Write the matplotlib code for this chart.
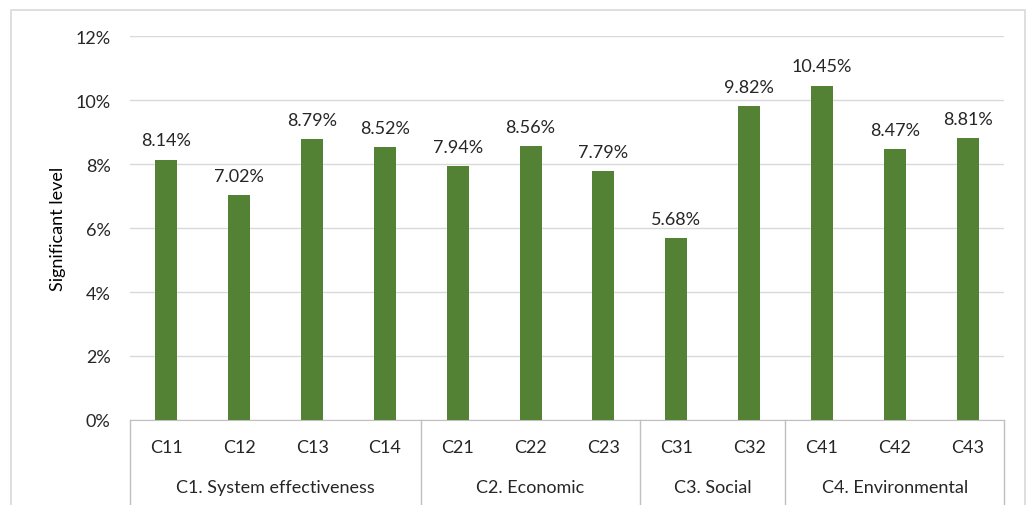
import matplotlib.pyplot as plt
from matplotlib.patches import Rectangle
from matplotlib.ticker import FuncFormatter, MultipleLocator

plt.rcParams['font.family'] = ['Lato', 'DejaVu Sans']

codes = ['C11', 'C12', 'C13', 'C14', 'C21', 'C22', 'C23', 'C31', 'C32', 'C41', 'C42', 'C43']
values = [8.14, 7.02, 8.79, 8.52, 7.94, 8.56, 7.79, 5.68, 9.82, 10.45, 8.47, 8.81]
groups = ['C1. System effectiveness', 'C2. Economic', 'C3. Social', 'C4. Environmental']
group_sizes = [4, 3, 2, 3]

bar_color = '#548235'
text_color = '#262626'

fig = plt.figure(figsize=(10.35, 5.06), dpi=100)
fig.patches.append(Rectangle((11 / 1035, -0.1), (1025 - 11) / 1035, 1.1 - 11 / 506,
                             transform=fig.transFigure, fill=False,
                             edgecolor='#d9d9d9', linewidth=1.2))
ax = fig.add_axes([130 / 1035, 1 - 421 / 506, (1004 - 130) / 1035, (421 - 37) / 506])

x = list(range(len(codes)))
bars = ax.bar(x, values, width=0.3, color=bar_color, zorder=3)
ax.bar_label(bars, labels=[f'{v:.2f}%' for v in values], padding=8,
             fontsize=13, color=text_color)

ax.set_ylim(0, 12)
ax.set_xlim(-0.5, len(codes) - 0.5)
ax.yaxis.set_major_locator(MultipleLocator(2))
ax.yaxis.set_major_formatter(FuncFormatter(lambda v, p: f'{v:.0f}%'))
ax.grid(axis='y', color='#d9d9d9', linewidth=1, zorder=0)
ax.tick_params(axis='y', length=0, labelsize=13, labelcolor=text_color, pad=14)
ax.set_xticks([])
for s in ['top', 'right', 'left']:
    ax.spines[s].set_visible(False)
ax.spines['bottom'].set_color('#bfbfbf')
ax.set_ylabel('Significant level', fontsize=13, color='black', labelpad=7)

trans = ax.get_xaxis_transform()
for i, c in enumerate(codes):
    ax.text(i, -27 / 384, c, transform=trans, ha='center', va='center',
            fontsize=13, color=text_color)

start = -0.5
bounds = [start]
for g, n in zip(groups, group_sizes):
    end = start + n
    ax.text((start + end) / 2, -67 / 384, g, transform=trans, ha='center',
            va='center', fontsize=13, color=text_color)
    bounds.append(end)
    start = end
for b in bounds:
    ax.plot([b, b], [0, -85 / 384], transform=trans, color='#bfbfbf',
            linewidth=1, clip_on=False)

fig.savefig('out.png', dpi=100)
